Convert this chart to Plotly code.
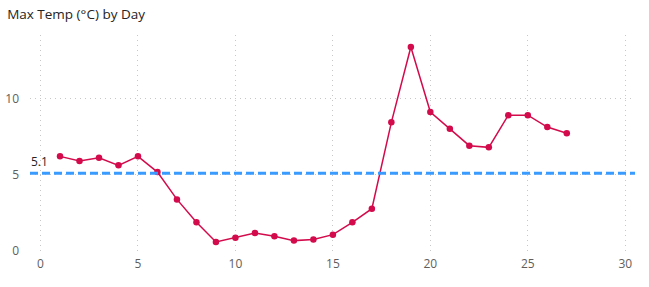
import plotly.graph_objects as go

days = list(range(1, 28))
max_temp = [6.2, 5.89, 6.11, 5.61, 6.2, 5.17, 3.38, 1.88, 0.59, 0.87,
            1.18, 0.96, 0.68, 0.76, 1.07, 1.88, 2.77, 8.43, 13.36, 9.1,
            8.01, 6.9, 6.79, 8.9, 8.9, 8.12, 7.71]
title_text = "Max Temp (°C) by Day"
x_ticks = [0, 5, 10, 15, 20, 25, 30]
y_ticks = [0, 5, 10]

mean_val = sum(max_temp) / len(max_temp)

font_family = "Segoe UI, Open Sans, sans-serif"
grid_color = "#C8C8C8"

fig = go.Figure()
fig.add_trace(go.Scatter(
    x=days, y=max_temp, mode="lines+markers",
    line=dict(color="#D30B4C", width=1.5),
    marker=dict(color="#D30B4C", size=6.5),
    hoverinfo="x+y", showlegend=False,
))

fig.add_shape(type="line", xref="paper", yref="y", x0=0, x1=1,
              y0=mean_val, y1=mean_val,
              line=dict(color="#3A9BFF", width=3, dash="8px,4px"))
fig.add_annotation(xref="paper", yref="y", x=0, y=mean_val,
                   text=f"{mean_val:.1f}", showarrow=False,
                   xanchor="left", yanchor="bottom", xshift=-1, yshift=1,
                   font=dict(family=font_family, size=12, color="#252423"))

fig.update_layout(
    width=649, height=287,
    margin=dict(l=30, r=14, t=35, b=36),
    paper_bgcolor="white", plot_bgcolor="white",
    title=dict(text=title_text, x=0.011, xanchor="left", y=0.95, yanchor="middle",
               font=dict(family=font_family, size=13.5, color="#252423")),
    font=dict(family=font_family, size=12, color="#605E5C"),
    xaxis=dict(range=[-0.54, 30.5], tickvals=x_ticks, showgrid=True,
               gridcolor=grid_color, griddash="1px,4px", gridwidth=1,
               zeroline=False, showline=False, ticks="", ticklabelstandoff=4,
               automargin=False),
    yaxis=dict(range=[0, 14.15], tickvals=y_ticks, showgrid=True,
               gridcolor=grid_color, griddash="1px,4px", gridwidth=1,
               zeroline=False, showline=False, ticks="", ticklabelstandoff=10,
               automargin=False),
)

fig.write_html("out.html")
